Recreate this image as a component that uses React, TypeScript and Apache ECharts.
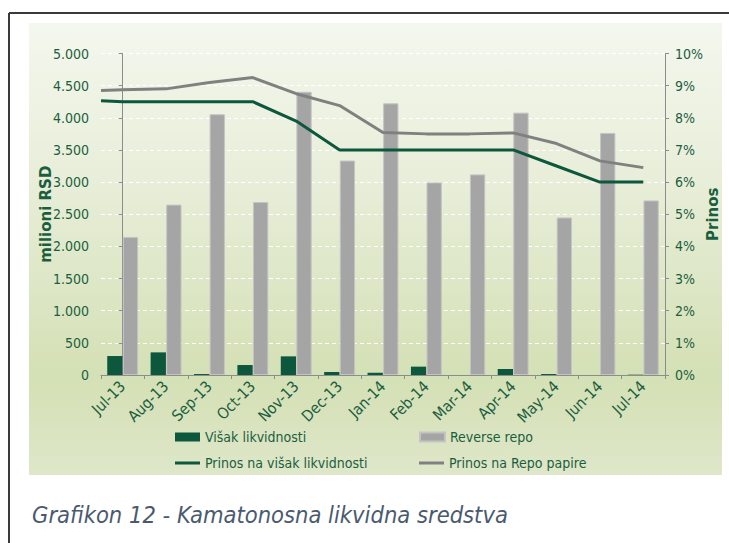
import React, { useEffect, useRef } from "react";
import * as echarts from "echarts";

const categories = ["Jul-13", "Aug-13", "Sep-13", "Oct-13", "Nov-13", "Dec-13", "Jan-14", "Feb-14", "Mar-14", "Apr-14", "May-14", "Jun-14", "Jul-14"];
const visakLikvidnosti = [295, 352, 15, 155, 290, 47, 35, 130, 0, 93, 15, 0, 5];
const reverseRepo = [2147, 2650, 4055, 2690, 4405, 3335, 4225, 2995, 3120, 4080, 2450, 3765, 2715];
const prinosVisak = [8.5, 8.5, 8.5, 8.5, 7.9, 7.0, 7.0, 7.0, 7.0, 7.0, 6.5, 6.0, 6.0];
const prinosRepo = [8.87, 8.9, 9.1, 9.25, 8.75, 8.38, 7.54, 7.5, 7.5, 7.53, 7.2, 6.66, 6.45];
// value of each line where it meets the left axis
const edgeVisak = 8.53;
const edgeRepo = 8.85;

const seriesNames = ["Višak likvidnosti", "Reverse repo", "Prinos na višak likvidnosti", "Prinos na Repo papire"];
const caption = "Grafikon 12 - Kamatonosna likvidna sredstva";

const FONT = "'DejaVu Sans Condensed', 'DejaVu Sans', sans-serif";
const FONT_WIDE = "'DejaVu Sans', sans-serif";
const TXT = "#1b5e3f";
const GREEN = "#0d573d";
const GREY_BAR = "#a5a5a5";
const GREY_LINE = "#808080";

const fmt = (v: number) => String(v).replace(/\B(?=(\d{3})+(?!\d))/g, ".");

export default function App() {
  const ref = useRef<HTMLDivElement>(null);
  useEffect(() => {
    if (!ref.current) return;
    const chart = echarts.init(ref.current, undefined, { renderer: "svg" });
    const legendText = { color: TXT, fontSize: 14, fontFamily: FONT };
    const option: any = {
      animation: false,
      graphic: [
        {
          type: "rect",
          shape: { x: 29, y: 23, width: 693, height: 452 },
          style: {
            fill: new echarts.graphic.LinearGradient(0, 0, 0, 1, [
              { offset: 0, color: "#f4f7ee" },
              { offset: 0.35, color: "#e8eed9" },
              { offset: 0.78, color: "#d4e0b5" },
              { offset: 1, color: "#dee7c9" },
            ]),
          },
          z: -10,
          silent: true,
        },
        { type: "line", shape: { x1: 9, y1: 13, x2: 729, y2: 13 }, style: { stroke: "#3a3a3a", lineWidth: 2 }, z: -5 },
        { type: "line", shape: { x1: 9, y1: 13, x2: 9, y2: 543 }, style: { stroke: "#3a3a3a", lineWidth: 2 }, z: -5 },
        {
          type: "text",
          x: 32,
          y: 515,
          style: {
            text: caption,
            fill: "#4a5a6e",
            fontSize: 23.5,
            fontStyle: "italic",
            fontFamily: FONT,
            verticalAlign: "middle",
          },
        },
      ],
      grid: { left: 101, right: 64, top: 53.5, bottom: 168, containLabel: false, outerBoundsMode: "none" },
      legend: [
        { data: [{ name: seriesNames[0], icon: "rect" }], left: 175, top: 430, itemWidth: 25, itemHeight: 9, itemGap: 0, textStyle: legendText, padding: 0 },
        { data: [{ name: seriesNames[1], icon: "rect" }], left: 419, top: 430, itemWidth: 25, itemHeight: 9, itemGap: 0, textStyle: legendText, padding: 0 },
        { data: [{ name: seriesNames[2], icon: "rect" }], left: 175, top: 456, itemWidth: 25, itemHeight: 3, itemGap: 0, textStyle: legendText, padding: 0 },
        { data: [{ name: seriesNames[3], icon: "rect" }], left: 419, top: 456, itemWidth: 25, itemHeight: 3, itemGap: 0, textStyle: legendText, padding: 0 },
      ],
      xAxis: [
        {
          type: "category",
          data: categories,
          boundaryGap: true,
          axisLine: { lineStyle: { color: "#8c8c8c", width: 1 } },
          axisTick: { show: true, interval: 0, length: 4, lineStyle: { color: "#8c8c8c" } },
          axisLabel: { interval: 0, rotate: 45, color: TXT, fontSize: 15.5, fontFamily: FONT, margin: 9 },
          splitLine: { show: false },
        },
        { type: "value", min: -0.5, max: 12.5, show: false },
      ],
      yAxis: [
        {
          type: "value",
          min: 0,
          max: 5000,
          interval: 500,
          name: "milioni RSD",
          nameLocation: "middle",
          nameRotate: 90,
          nameGap: 48,
          nameMoveOverlap: false,
          nameTextStyle: { color: TXT, fontSize: 15, fontWeight: "bold", fontFamily: FONT_WIDE },
          axisLine: { show: true, lineStyle: { color: "#8c8c8c", width: 1 } },
          axisTick: { show: true, length: 4, lineStyle: { color: "#8c8c8c" } },
          axisLabel: { color: TXT, fontSize: 14, fontFamily: FONT, margin: 12, formatter: (v: number) => fmt(v) },
          splitLine: { show: true, lineStyle: { color: "#ffffff", type: [4, 3], width: 1 } },
        },
        {
          type: "value",
          min: 0,
          max: 10,
          interval: 1,
          name: "Prinos",
          nameLocation: "middle",
          nameRotate: 90,
          nameGap: 40,
          nameMoveOverlap: false,
          nameTextStyle: { color: TXT, fontSize: 15, fontWeight: "bold", fontFamily: FONT_WIDE },
          axisLine: { show: true, lineStyle: { color: "#8c8c8c", width: 1 } },
          axisTick: { show: true, length: 4, lineStyle: { color: "#8c8c8c" } },
          axisLabel: { color: TXT, fontSize: 14, fontFamily: FONT, margin: 10, formatter: "{value}%" },
          splitLine: { show: false },
        },
      ],
      series: [
        {
          name: seriesNames[0],
          type: "bar",
          xAxisIndex: 0,
          yAxisIndex: 0,
          data: visakLikvidnosti,
          barWidth: 15.3,
          barGap: "2%",
          itemStyle: { color: GREEN },
        },
        {
          name: seriesNames[1],
          type: "bar",
          xAxisIndex: 0,
          yAxisIndex: 0,
          data: reverseRepo,
          barWidth: 15.3,
          barGap: "2%",
          itemStyle: { color: GREY_BAR, borderColor: "#c4c4c4", borderWidth: 1 },
        },
        {
          name: seriesNames[2],
          type: "line",
          xAxisIndex: 1,
          yAxisIndex: 1,
          data: [[-0.5, edgeVisak], ...prinosVisak.map((v, i) => [i, v])],
          symbol: "none",
          lineStyle: { color: GREEN, width: 3 },
          itemStyle: { color: GREEN },
          z: 5,
        },
        {
          name: seriesNames[3],
          type: "line",
          xAxisIndex: 1,
          yAxisIndex: 1,
          data: [[-0.5, edgeRepo], ...prinosRepo.map((v, i) => [i, v])],
          symbol: "none",
          lineStyle: { color: GREY_LINE, width: 3 },
          itemStyle: { color: GREY_LINE },
          z: 5,
        },
      ],
    };
    chart.setOption(option);
    return () => chart.dispose();
  }, []);
  return (
    <div
      ref={ref}
      style={{ position: "absolute", left: 0, top: 0, width: 729, height: 543, background: "#ffffff" }}
    />
  );
}
